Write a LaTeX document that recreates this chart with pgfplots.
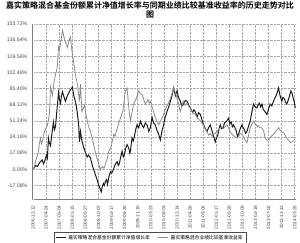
\documentclass[border=0pt]{standalone}
\usepackage{pgfplots}
\pgfplotsset{compat=1.18}
\usepackage{fontspec}
\setmainfont{Liberation Sans}
\newfontfamily\cjk{Noto Sans CJK SC}
\newfontfamily\cjkb{Noto Sans CJK SC Bold}
\definecolor{fundc}{HTML}{1E1E1E}
\definecolor{benchc}{HTML}{8C8C8C}
\definecolor{gridc}{HTML}{A8A8A8}
\begin{document}
\begin{tikzpicture}
\path[use as bounding box] (0,0) rectangle (300pt,242pt);
\node[align=center, inner sep=0pt, font=\cjkb\fontsize{8}{9.2}\selectfont] at (150pt,232pt)
 {嘉实策略混合基金份额累计净值增长率与同期业绩比较基准收益率的历史走势对比\\图};
\begin{axis}[
 at={(33pt,42pt)}, anchor=south west,
 scale only axis, width=263pt, height=176pt,
 xmin=0, xmax=20.1, ymin=-32.5, ymax=153.72,
 axis x line=bottom, axis y line=left,
 axis line style={-, gray, double=white, double distance=0.7pt, line width=0.4pt},
 xtick={0,...,20},
 xticklabels={2006-12-12,2007-04-24,2007-09-04,2008-01-15,2008-05-27,2008-10-07,2009-02-17,2009-06-30,2009-11-10,2010-03-23,2010-08-03,2010-12-14,2011-04-26,2011-09-06,2012-01-17,2012-05-29,2012-10-09,2013-02-19,2013-07-02,2013-11-12,2014-03-25},
 xticklabel style={rotate=90, anchor=east, font=\fontsize{4.6}{5}\selectfont, text=black!75},
 ytick={-17.08,0,17.08,34.16,51.24,68.32,85.40,102.48,119.56,136.64,153.72},
 yticklabels={-17.08\%,0.00\%,17.08\%,34.16\%,51.24\%,68.32\%,85.40\%,102.48\%,119.56\%,136.64\%,153.72\%},
 yticklabel style={font=\fontsize{5.2}{6}\selectfont, text=black!70},
 /pgf/number format/assume math mode=true,
 tick style={draw=none},
 grid=major,
 major grid style={gridc, densely dotted, line width=0.5pt},
 legend style={at={(0.445,-0.215)}, anchor=center, draw=black!70, line width=0.4pt,
   font=\cjk\fontsize{4.8}{6}\selectfont, legend columns=2, inner sep=1pt,
   /tikz/every even column/.append style={column sep=6pt}},
 legend image code/.code={\draw[#1] (0pt,0pt) -- (10pt,0pt);},
]
\addplot[fundc, line width=1pt] coordinates {
(0.00,0) (0.06,1) (0.20,4) (0.34,3) (0.50,7) (0.70,10) (0.80,6) (0.88,8) (1.03,15) (1.10,12) (1.18,33) (1.25,28) (1.34,25)
(1.45,38) (1.56,50) (1.64,42) (1.72,45) (1.85,66) (1.95,81) (2.02,74) (2.10,70) (2.18,78) (2.25,82) (2.38,76) (2.48,72)
(2.60,77) (2.71,80) (2.85,84) (3.02,87) (3.10,79) (3.17,75) (3.30,68) (3.40,58) (3.50,45) (3.55,29) (3.63,40) (3.70,33)
(3.76,29) (3.88,23) (4.00,18) (4.14,13) (4.25,15) (4.39,12) (4.50,6) (4.58,2) (4.68,-2) (4.77,-6) (4.90,-11) (5.02,-17)
(5.12,-20) (5.21,-24) (5.30,-18) (5.38,-15) (5.45,-17) (5.53,-13) (5.62,-11) (5.69,-16) (5.80,-8) (5.92,-2.5) (6.02,-4)
(6.15,0) (6.28,5) (6.43,8) (6.52,4) (6.60,6) (6.70,13) (6.81,19) (6.90,13) (6.98,15) (7.08,22) (7.19,26) (7.26,24)
(7.33,22) (7.40,17) (7.44,19) (7.52,28) (7.57,33) (7.66,30) (7.75,35) (7.85,42) (7.95,47) (8.08,44) (8.21,51)
(8.32,47) (8.46,44) (8.58,49) (8.72,47) (8.85,40) (8.97,44) (9.04,50) (9.10,55) (9.22,49) (9.35,47) (9.45,42)
(9.58,38) (9.65,35) (9.73,31) (9.85,40) (9.98,47) (10.10,55) (10.24,61) (10.37,66) (10.50,72) (10.62,78) (10.75,86)
(10.82,82) (10.88,78) (10.95,81) (11.01,83) (11.12,76) (11.26,72) (11.38,67) (11.51,69) (11.64,73) (11.77,72)
(11.90,68) (12.02,65) (12.20,60) (12.30,63) (12.40,61) (12.55,55) (12.65,60) (12.79,58) (12.92,52) (13.04,47)
(13.17,43) (13.30,40) (13.42,44) (13.55,47) (13.65,42) (13.74,38) (13.84,33) (13.93,29) (14.02,33) (14.12,36)
(14.22,43) (14.31,47) (14.42,43) (14.54,44) (14.63,49) (14.73,50) (14.84,52) (14.95,54) (15.05,48) (15.15,50)
(15.24,45) (15.33,47) (15.43,44) (15.53,41) (15.62,35) (15.71,37) (15.84,43) (15.97,47) (16.06,44) (16.15,42)
(16.25,38) (16.35,40) (16.48,46) (16.60,51) (16.72,60) (16.85,69) (16.98,66) (17.11,65) (17.20,68) (17.29,70)
(17.40,66) (17.50,69) (17.58,64) (17.67,62) (17.78,60) (17.88,58) (18.00,64) (18.13,69) (18.25,67) (18.38,72)
(18.48,75) (18.59,78) (18.68,82) (18.76,86) (18.88,78) (19.02,72) (19.10,76) (19.20,75) (19.30,71) (19.40,69)
(19.55,75) (19.71,83) (19.80,80) (19.89,75) (19.96,72) (20.04,65)
};
\addlegendentry{嘉实策略混合基金份额累计净值增长率}
\addplot[benchc, line width=0.8pt] coordinates {
(0.00,0) (0.06,1) (0.16,6) (0.27,12) (0.35,16) (0.42,20) (0.50,28) (0.57,33) (0.65,27) (0.73,30) (0.80,36) (0.88,40)
(1.00,44) (1.11,47) (1.18,52) (1.26,60) (1.34,87) (1.42,82) (1.49,78) (1.60,92) (1.72,100) (1.80,104) (1.87,110)
(1.95,129) (2.02,126) (2.10,132) (2.18,140) (2.25,147) (2.32,143) (2.40,138) (2.52,133) (2.63,129) (2.75,136)
(2.86,140) (2.92,132) (2.98,125) (3.09,115) (3.16,108) (3.24,100) (3.32,95) (3.40,90) (3.48,80) (3.55,72) (3.63,90)
(3.68,75) (3.74,61) (3.83,64) (3.93,68) (4.05,58) (4.16,50) (4.28,44) (4.39,40) (4.46,36) (4.54,33) (4.65,25)
(4.77,18) (4.88,12) (5.00,7) (5.08,3) (5.15,-1) (5.22,2) (5.31,3) (5.42,1) (5.53,5) (5.60,9) (5.69,12) (5.74,16)
(5.79,19) (5.90,22) (5.99,25) (6.08,31) (6.17,37) (6.27,35) (6.37,40) (6.52,47) (6.68,54) (6.78,58) (6.87,62)
(6.96,72) (7.06,83) (7.12,84) (7.19,86) (7.24,78) (7.29,70) (7.36,60) (7.44,51) (7.56,60) (7.69,69) (7.80,72)
(7.90,75) (8.00,80) (8.08,83) (8.20,80) (8.34,79) (8.46,74) (8.59,69) (8.68,71) (8.78,74) (8.88,70) (8.97,72)
(9.10,66) (9.22,61) (9.32,56) (9.43,52) (9.52,49) (9.60,47) (9.75,51) (9.89,55) (10.04,60) (10.19,66) (10.35,70)
(10.50,75) (10.62,80) (10.75,86) (10.85,82) (10.95,78) (11.05,73) (11.13,69) (11.20,64) (11.26,61) (11.38,68)
(11.49,72) (11.63,68) (11.77,70) (11.90,67) (12.02,65) (12.20,60) (12.40,58) (12.60,54) (12.79,51) (12.90,49)
(13.02,47) (13.16,43) (13.30,40) (13.42,36) (13.55,38) (13.68,35) (13.80,37) (13.92,38) (14.05,40) (14.18,42)
(14.31,44) (14.42,45) (14.54,43) (14.68,45) (14.82,47) (14.91,45) (15.00,42) (15.10,39) (15.21,37) (15.30,36)
(15.38,35) (15.48,34) (15.59,33) (15.68,34) (15.76,36) (15.86,38) (15.97,37) (16.06,35) (16.15,33) (16.25,30)
(16.35,28) (16.48,36) (16.60,44) (16.72,48) (16.85,51) (16.96,48) (17.06,47) (17.14,45) (17.21,46) (17.35,44)
(17.50,44) (17.56,42) (17.63,40) (17.70,36) (17.75,33) (17.88,31) (18.00,31) (18.10,33) (18.21,35) (18.30,36)
(18.38,37) (18.48,39) (18.59,41) (18.68,42) (18.76,44) (18.90,41) (19.02,40) (19.10,39) (19.20,38) (19.30,35)
(19.40,33) (19.50,31) (19.58,30) (19.68,28) (19.79,29) (19.92,30) (20.04,30)
};
\addlegendentry{嘉实策略混合业绩比较基准收益率}
\end{axis}
\end{tikzpicture}
\end{document}
